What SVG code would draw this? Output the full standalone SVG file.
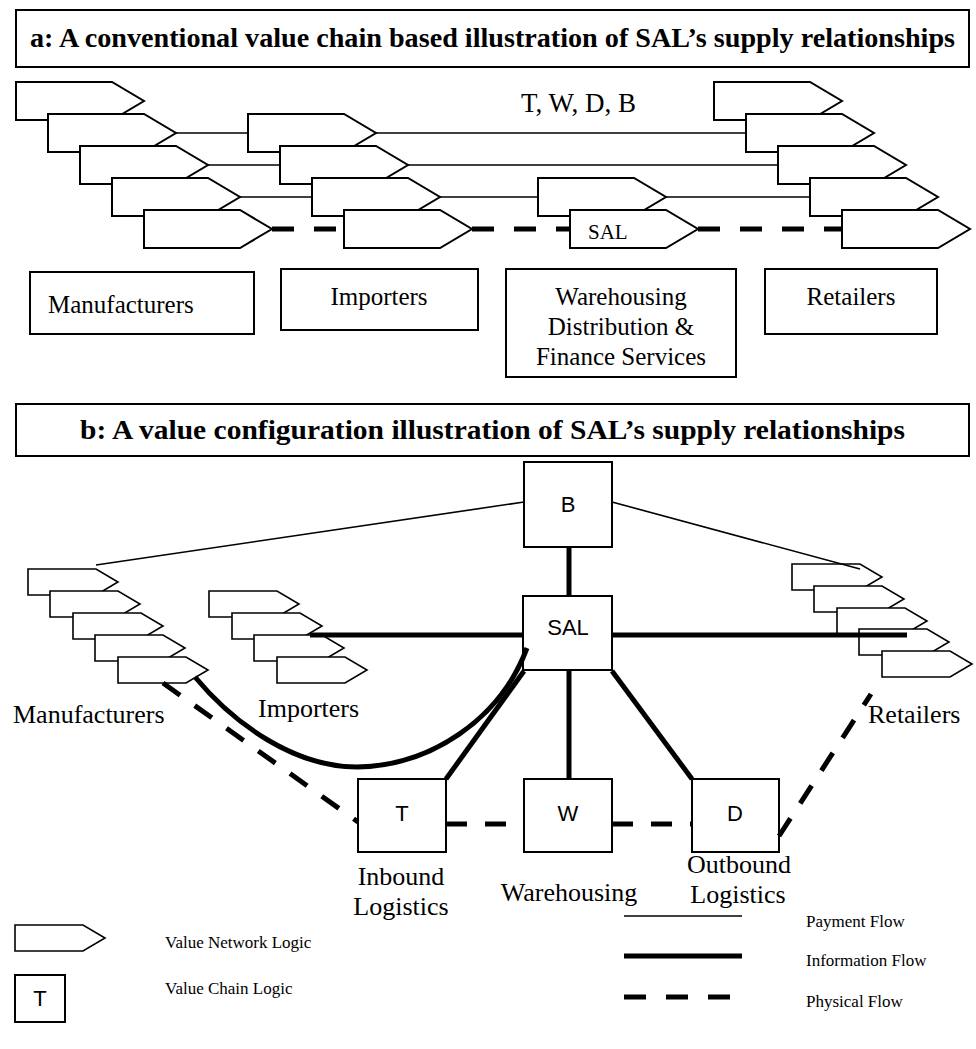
<svg xmlns="http://www.w3.org/2000/svg" xmlns:xlink="http://www.w3.org/1999/xlink" width="976" height="1049" viewBox="0 0 976 1049">
<style>
.bg{fill:#fff}
.arA{fill:#fff;stroke:#000;stroke-width:2;stroke-linejoin:miter}
.arB{fill:#fff;stroke:#000;stroke-width:1.6;stroke-linejoin:miter}
.box{fill:#fff;stroke:#000;stroke-width:2}
.serif{font-family:"Liberation Serif","Times New Roman",serif;fill:#000}
.sans{font-family:"Liberation Sans",Arial,sans-serif;fill:#000}
.title{font-size:27px;font-weight:bold}
.lab{font-size:25px}
.labb{font-size:26px}
.leg{font-size:17px}
.nodeT{font-size:22px}
.pay{stroke:#000;stroke-width:1.6;fill:none}
.info{stroke:#000;stroke-width:5;fill:none}
.phys{stroke:#000;stroke-width:5;stroke-dasharray:22 20;fill:none}
.physb{stroke:#000;stroke-width:5;stroke-dasharray:21 18;fill:none}
</style>
<defs>
<path id="chevA" d="M0,0 h96 l32,19 l-32,19 h-96 z"/>
<path id="chevB" d="M0,0 h68 l22,13 l-22,13 h-68 z"/>
</defs>
<rect class="bg" x="0" y="0" width="976" height="1049"/>

<!-- Section a -->
<g id="title-a">
<rect class="box" x="16" y="10" width="953" height="57"/>
<text class="serif title" x="30" y="47" textLength="925" lengthAdjust="spacingAndGlyphs">a: A conventional value chain based illustration of SAL’s supply relationships</text>
</g>
<g id="a-manufacturers-chain">
<use xlink:href="#chevA" href="#chevA" class="arA" x="16" y="82"/>
<use xlink:href="#chevA" href="#chevA" class="arA" x="48" y="114"/>
<use xlink:href="#chevA" href="#chevA" class="arA" x="80" y="146"/>
<use xlink:href="#chevA" href="#chevA" class="arA" x="112" y="178"/>
<use xlink:href="#chevA" href="#chevA" class="arA" x="144" y="210"/>
</g>
<g id="a-importers-chain">
<use xlink:href="#chevA" href="#chevA" class="arA" x="248" y="114"/>
<use xlink:href="#chevA" href="#chevA" class="arA" x="280" y="146"/>
<use xlink:href="#chevA" href="#chevA" class="arA" x="312" y="178"/>
<use xlink:href="#chevA" href="#chevA" class="arA" x="344" y="210"/>
</g>
<g id="a-sal-chain">
<use xlink:href="#chevA" href="#chevA" class="arA" x="538" y="178"/>
<use xlink:href="#chevA" href="#chevA" class="arA" x="570" y="210"/>
<text class="serif" x="588" y="239" font-size="21">SAL</text>
</g>
<g id="a-retailers-chain">
<use xlink:href="#chevA" href="#chevA" class="arA" x="714" y="82"/>
<use xlink:href="#chevA" href="#chevA" class="arA" x="746" y="114"/>
<use xlink:href="#chevA" href="#chevA" class="arA" x="778" y="146"/>
<use xlink:href="#chevA" href="#chevA" class="arA" x="810" y="178"/>
<use xlink:href="#chevA" href="#chevA" class="arA" x="842" y="210"/>
</g>
<g id="a-twdb-label">
<text class="serif" x="521" y="112" font-size="27">T, W, D, B</text>
</g>
<g id="a-manufacturers-box">
<rect class="box" x="30" y="272" width="224" height="62"/>
<text class="serif lab" x="48" y="313">Manufacturers</text>
</g>
<g id="a-importers-box">
<rect class="box" x="281" y="269" width="197" height="61"/>
<text class="serif lab" x="379" y="305" text-anchor="middle">Importers</text>
</g>
<g id="a-warehousing-box">
<rect class="box" x="506" y="269" width="230" height="108"/>
<text class="serif lab" x="621" y="305" text-anchor="middle">Warehousing</text>
<text class="serif lab" x="621" y="335" text-anchor="middle">Distribution &amp;</text>
<text class="serif lab" x="621" y="365" text-anchor="middle">Finance Services</text>
</g>
<g id="a-retailers-box">
<rect class="box" x="765" y="269" width="172" height="65"/>
<text class="serif lab" x="851" y="305" text-anchor="middle">Retailers</text>
</g>

<!-- Section b -->
<g id="title-b">
<rect class="box" x="16" y="404" width="953" height="52"/>
<text class="serif title" x="80" y="439" textLength="825" lengthAdjust="spacingAndGlyphs">b: A value configuration illustration of SAL’s supply relationships</text>
</g>
<g id="b-manufacturers">
<use xlink:href="#chevB" href="#chevB" class="arB" x="28" y="569"/>
<use xlink:href="#chevB" href="#chevB" class="arB" x="50" y="591"/>
<use xlink:href="#chevB" href="#chevB" class="arB" x="73" y="613"/>
<use xlink:href="#chevB" href="#chevB" class="arB" x="95" y="635"/>
<use xlink:href="#chevB" href="#chevB" class="arB" x="118" y="657"/>
<text class="serif labb" x="13" y="723">Manufacturers</text>
</g>
<g id="b-importers">
<use xlink:href="#chevB" href="#chevB" class="arB" x="209" y="591"/>
<use xlink:href="#chevB" href="#chevB" class="arB" x="232" y="613"/>
<use xlink:href="#chevB" href="#chevB" class="arB" x="254" y="635"/>
<use xlink:href="#chevB" href="#chevB" class="arB" x="277" y="657"/>
<text class="serif labb" x="258" y="717">Importers</text>
</g>
<g id="b-retailers">
<use xlink:href="#chevB" href="#chevB" class="arB" x="792" y="564"/>
<use xlink:href="#chevB" href="#chevB" class="arB" x="814" y="586"/>
<use xlink:href="#chevB" href="#chevB" class="arB" x="837" y="608"/>
<use xlink:href="#chevB" href="#chevB" class="arB" x="859" y="629"/>
<use xlink:href="#chevB" href="#chevB" class="arB" x="882" y="651"/>
<text class="serif labb" x="868" y="723">Retailers</text>
</g>
<g id="b-node-B">
<rect class="box" x="524" y="462" width="88" height="85"/>
<text class="sans nodeT" x="568" y="512" text-anchor="middle">B</text>
</g>
<g id="b-node-SAL">
<rect class="box" x="523" y="596" width="89" height="74"/>
<text class="sans nodeT" x="568" y="635" text-anchor="middle">SAL</text>
</g>
<g id="b-node-T">
<rect class="box" x="358" y="779" width="88" height="73"/>
<text class="sans nodeT" x="402" y="821" text-anchor="middle">T</text>
<text class="serif labb" x="401" y="885" text-anchor="middle">Inbound</text>
<text class="serif labb" x="401" y="915" text-anchor="middle">Logistics</text>
</g>
<g id="b-node-W">
<rect class="box" x="524" y="779" width="88" height="73"/>
<text class="sans nodeT" x="568" y="821" text-anchor="middle">W</text>
<text class="serif labb" x="569" y="901" text-anchor="middle">Warehousing</text>
</g>
<g id="b-node-D">
<rect class="box" x="692" y="779" width="87" height="73"/>
<text class="sans nodeT" x="735" y="821" text-anchor="middle">D</text>
<text class="serif labb" x="739" y="873" text-anchor="middle">Outbound</text>
<text class="serif labb" x="738" y="903" text-anchor="middle">Logistics</text>
</g>

<!-- Connectors -->
<g id="connectors">
<line class="pay" x1="176" y1="133" x2="248" y2="133"/>
<line class="pay" x1="376" y1="133" x2="746" y2="133"/>
<line class="pay" x1="208" y1="165" x2="280" y2="165"/>
<line class="pay" x1="408" y1="165" x2="778" y2="165"/>
<line class="pay" x1="240" y1="197" x2="312" y2="197"/>
<line class="pay" x1="440" y1="197" x2="538" y2="197"/>
<line class="pay" x1="666" y1="197" x2="810" y2="197"/>
<line class="phys" x1="272" y1="229" x2="344" y2="229"/>
<line class="phys" x1="472" y1="229" x2="570" y2="229"/>
<line class="phys" x1="698" y1="229" x2="842" y2="229"/>

<line class="pay" x1="524" y1="502" x2="96" y2="565"/>
<line class="pay" x1="612" y1="502" x2="860" y2="569"/>
<line class="info" x1="569" y1="547" x2="569" y2="596"/>
<line class="info" x1="310" y1="635" x2="523" y2="635"/>
<line class="info" x1="612" y1="635" x2="907" y2="635"/>
<line class="info" x1="569" y1="670" x2="569" y2="779"/>
<line class="info" x1="524" y1="671" x2="446" y2="779"/>
<line class="info" x1="612" y1="671" x2="692" y2="779"/>
<path class="info" d="M195,677 C235,725 295,767 357,767 C430,766 500,720 527,648"/>
<line class="physb" x1="163" y1="683" x2="358" y2="822"/>
<line class="physb" x1="446" y1="824" x2="524" y2="824"/>
<line class="physb" x1="612" y1="824" x2="692" y2="824"/>
<line class="physb" x1="779" y1="836" x2="871" y2="694"/>
</g>

<!-- Legend -->
<g id="legend">
<use xlink:href="#chevB" href="#chevB" class="arB" x="15" y="925"/>
<text class="serif leg" x="165" y="948">Value Network Logic</text>
<rect class="box" x="15" y="975" width="50" height="47"/>
<text class="sans nodeT" x="40" y="1006" text-anchor="middle">T</text>
<text class="serif leg" x="165" y="994">Value Chain Logic</text>
<line class="pay" x1="624" y1="916" x2="742" y2="916"/>
<text class="serif leg" x="806" y="927">Payment Flow</text>
<line class="info" x1="624" y1="956" x2="742" y2="956"/>
<text class="serif leg" x="806" y="966">Information Flow</text>
<line class="phys" x1="624" y1="997" x2="742" y2="997" stroke-dasharray="22 19"/>
<text class="serif leg" x="806" y="1007">Physical Flow</text>
</g>
</svg>
